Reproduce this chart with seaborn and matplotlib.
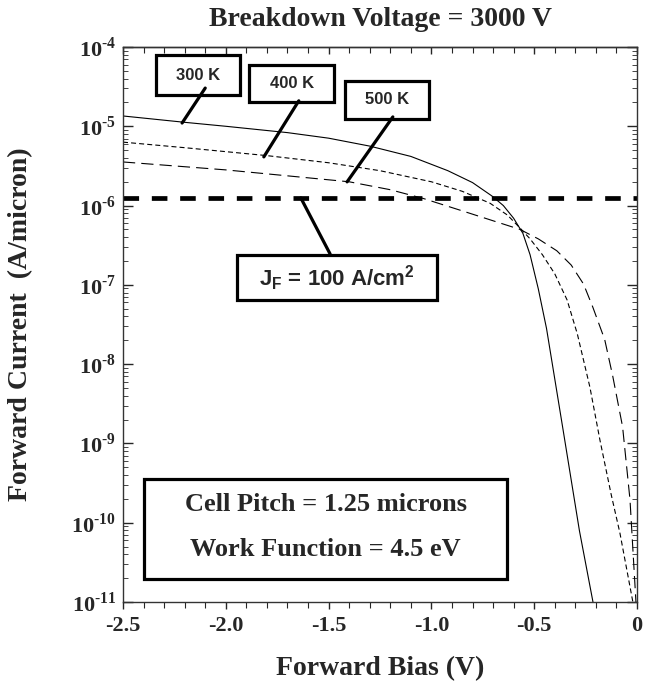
import matplotlib
matplotlib.use("Agg")
import matplotlib.pyplot as plt
import matplotlib.ticker as mticker
from matplotlib.patches import Rectangle
import seaborn as sns
import pandas as pd
import numpy as np

# forward bias (V) and log10 forward current (A/micron)
v_300 = [-2.5, -2.2, -2.0, -1.7, -1.5, -1.3, -1.1, -0.92, -0.8, -0.705, -0.65, -0.6, -0.555,
         -0.52, -0.48, -0.44, -0.36, -0.28, -0.214]
logi_300 = [-4.87, -4.95, -5.00, -5.08, -5.15, -5.25, -5.38, -5.56, -5.71, -5.88, -6.00, -6.16, -6.35,
            -6.62, -7.05, -7.55, -8.82, -10.1, -11.0]

v_400 = [-2.5, -2.2, -1.8, -1.5, -1.25, -1.0, -0.85, -0.715, -0.63, -0.57, -0.52, -0.46, -0.4,
         -0.34, -0.29, -0.229, -0.18, -0.125, -0.083, -0.02]
logi_400 = [-5.20, -5.27, -5.37, -5.46, -5.56, -5.70, -5.82, -5.97, -6.12, -6.28, -6.42, -6.62, -6.86,
            -7.19, -7.62, -8.29, -8.96, -9.65, -10.13, -11.0]

v_500 = [-2.5, -2.0, -1.4, -1.2, -1.04, -0.846, -0.666, -0.57, -0.48, -0.39, -0.32, -0.26, -0.215,
         -0.157, -0.118, -0.07, -0.034, -0.005]
logi_500 = [-5.45, -5.55, -5.70, -5.80, -5.91, -6.07, -6.22, -6.30, -6.42, -6.57, -6.75, -6.99, -7.28,
            -7.69, -8.15, -8.79, -9.71, -11.0]

jf_current = 1.25e-6  # 100 A/cm^2 times 1.25 micron pitch
temps = ["300 K", "400 K", "500 K"]

x_ticks = [-2.5, -2.0, -1.5, -1.0, -0.5, 0.0]
x_ticklabels = ["-2.5", "-2.0", "-1.5", "-1.0", "-0.5", "0"]
y_exps = [-11, -10, -9, -8, -7, -6, -5, -4]

sns.set_style("ticks")
plt.rcParams["font.family"] = ["Liberation Serif", "DejaVu Serif"]
plt.rcParams["font.weight"] = "bold"
plt.rcParams["mathtext.fontset"] = "custom"
plt.rcParams["mathtext.rm"] = "Liberation Serif:bold"
plt.rcParams["mathtext.bf"] = "Liberation Serif:bold"
plt.rcParams["mathtext.sf"] = "Liberation Sans:bold"
plt.rcParams["mathtext.it"] = "Liberation Sans:bold"

df = pd.concat([
    pd.DataFrame({"bias": v_300, "current": np.power(10.0, logi_300), "T": temps[0]}),
    pd.DataFrame({"bias": v_400, "current": np.power(10.0, logi_400), "T": temps[1]}),
    pd.DataFrame({"bias": v_500, "current": np.power(10.0, logi_500), "T": temps[2]}),
])

fig = plt.figure(figsize=(6.48, 6.90), dpi=100)
ax = fig.add_axes([0.1898, 0.1275, 0.7932, 0.8044])

dash_styles = {"300 K": None, "400 K": (4.5, 2.8), "500 K": (11, 5.5)}
for t in temps:
    sub = df[df["T"] == t]
    sns.lineplot(data=sub, x="bias", y="current", color="black", lw=0.8, ax=ax,
                 legend=False, sort=False, estimator=None)
    if dash_styles[t] is not None:
        ax.lines[-1].set_dashes(dash_styles[t])

ax.axhline(jf_current, color="black", lw=3.4, dashes=(3.3, 2.7))

ax.set_yscale("log")
ax.set_xlim(-2.5, 0)
ax.set_ylim(1e-11, 1e-4)

ax.set_xticks(x_ticks)
ax.set_xticklabels(x_ticklabels)
ax.xaxis.set_minor_locator(mticker.MultipleLocator(0.1))
ax.set_yticks([10.0 ** e for e in y_exps])
ax.set_yticklabels([r"$10^{\text{-}%d}$" % -e for e in y_exps])
ax.yaxis.set_minor_locator(mticker.LogLocator(base=10, subs=np.arange(2, 10), numticks=20))
ax.yaxis.set_minor_formatter(mticker.NullFormatter())

ax.tick_params(axis="x", which="both", direction="out", labelsize=16, pad=5)
ax.tick_params(axis="x", which="major", length=5, width=1)
ax.tick_params(axis="x", which="minor", length=4, width=0.8)
ax.tick_params(axis="y", which="both", direction="in", right=True, labelsize=16, pad=5)
ax.tick_params(axis="y", which="major", length=7, width=1)
ax.tick_params(axis="y", which="minor", length=3.5, width=0.6)
for lab in ax.get_xticklabels():
    lab.set_fontweight("bold")
for s in ax.spines.values():
    s.set_linewidth(1.0)
    s.set_color("#333333")

# top axis: inward ticks, no labels
top = ax.secondary_xaxis("top")
top.set_xticks(x_ticks)
top.set_xticklabels([])
top.xaxis.set_minor_locator(mticker.MultipleLocator(0.1))
top.tick_params(which="both", direction="in")
top.tick_params(which="major", length=5, width=1)
top.tick_params(which="minor", length=4, width=0.8)
top.spines["top"].set_linewidth(1.0)
top.spines["top"].set_color("#333333")

ax.set_xlabel("Forward Bias (V)", fontsize=20, fontweight="bold")
ax.xaxis.set_label_coords(0.5, -0.097)
ax.set_ylabel("Forward Current  (A/micron)", fontsize=20, fontweight="bold")
ax.yaxis.set_label_coords(-0.175, 0.5)
fig.text(380 / 648, 1 - 19 / 690, "Breakdown Voltage = 3000 V", fontsize=20, fontweight="bold",
         ha="center", va="center")

# temperature labels
label_boxes = [
    ("300 K", 0.064, 0.913, 0.164, 0.073, (0.160, 0.926), (0.115, 0.863)),
    ("400 K", 0.246, 0.900, 0.164, 0.068, (0.342, 0.903), (0.274, 0.802)),
    ("500 K", 0.432, 0.870, 0.164, 0.069, (0.525, 0.874), (0.436, 0.757)),
]
for txt, bx, by, bw, bh, p0, p1 in label_boxes:
    ax.add_patch(Rectangle((bx, by), bw, bh, transform=ax.transAxes, fill=True,
                           facecolor="white", edgecolor="black", lw=2.3, zorder=5))
    ax.text(bx + bw / 2, by + bh / 2, txt, transform=ax.transAxes, ha="center", va="center",
            fontsize=12, fontweight="bold", family="Liberation Sans", zorder=6)
    ax.plot([p0[0], p1[0]], [p0[1], p1[1]], transform=ax.transAxes, color="black",
            lw=2.3, zorder=5)

# JF label
ax.add_patch(Rectangle((0.222, 0.544), 0.389, 0.081, transform=ax.transAxes, fill=True,
                       facecolor="white", edgecolor="black", lw=2.3, zorder=5))
ax.text(0.4165, 0.584, r"$\mathsf{J_F}$" + " = 100 A/cm" + r"$\mathsf{^2}$", transform=ax.transAxes,
        ha="center", va="center", fontsize=16, fontweight="bold", family="Liberation Sans", zorder=6)
ax.plot([0.346, 0.403], [0.728, 0.627], transform=ax.transAxes, color="black", lw=2.3, zorder=5)

# device parameters
ax.add_patch(Rectangle((0.041, 0.041), 0.706, 0.181, transform=ax.transAxes, fill=True,
                       facecolor="white", edgecolor="black", lw=2.3, zorder=5))
ax.text(0.394, 0.175, "Cell Pitch = 1.25 microns", transform=ax.transAxes, ha="center",
        va="center", fontsize=19, fontweight="bold", zorder=6)
ax.text(0.394, 0.094, "Work Function = 4.5 eV", transform=ax.transAxes, ha="center",
        va="center", fontsize=19, fontweight="bold", zorder=6)

fig.savefig("out.png", dpi=100)
plt.close(fig)
